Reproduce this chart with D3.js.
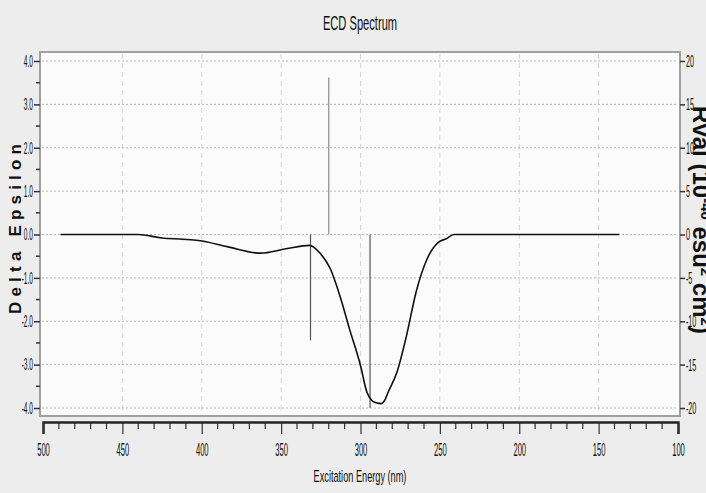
<!DOCTYPE html>
<html>
<head>
<meta charset="utf-8">
<script src="https://cdn.jsdelivr.net/npm/d3@7"></script>
<style>
body { margin: 0; background: #ededed; }
svg { display: block; }
text { font-family: 'Liberation Sans', Arial, sans-serif; fill: #111; }
</style>
</head>
<body>
<svg width="706" height="493"></svg>
<script>
var svg = d3.select('svg');

//Calculated ECD curve (nm, delta epsilon)
var wavelengths = [489, 440, 425, 412, 402, 384, 363, 347, 332, 326, 319, 313, 307, 300, 296, 293, 290, 287, 285, 282.5, 277, 271, 265, 258, 251, 246, 241, 137]
var deltaEps = [0, 0, -0.08, -0.11, -0.14, -0.28, -0.43, -0.33, -0.25, -0.41, -0.79, -1.41, -2.17, -3.02, -3.63, -3.82, -3.88, -3.9, -3.84, -3.63, -3.17, -2.33, -1.33, -0.56, -0.18, -0.1, 0, 0]

//Excited states (sticks, right axis)
var stateWavelengths = [331.5, 320, 294]
var rotatory = [-12.2, 18.1, -20.0]

var xTicks = [500, 450, 400, 350, 300, 250, 200, 150, 100]
var leftTicks = [4, 3, 2, 1, 0, -1, -2, -3, -4]
var rightTicks = [20, 15, 10, 5, 0, -5, -10, -15, -20]

var x = d3.scaleLinear().domain([500, 100]).range([43, 678])
var yL = d3.scaleLinear().domain([-4, 4]).range([408, 61])
var yR = d3.scaleLinear().domain([-20, 20]).range([408, 61])

var plot = {left: 40, right: 680, top: 52, bottom: 416}

//Squeeze text horizontally (the original uses a very narrow face)
function squeeze(sel, k) {
	sel.each(function() {
		var t = d3.select(this)
		var xx = +t.attr('x') || 0
		t.attr('x', xx / k).attr('transform', 'scale(' + k + ',1)')
	})
}
function hyphen(f) {
	return function(d) { return f(d).replace('\u2212', '-') }
}

//Title
svg.append('text')
	.attr('x', 360).attr('y', 30)
	.attr('text-anchor', 'middle')
	.attr('font-size', 21)
	.text('ECD Spectrum')
	.call(squeeze, 0.53)

//Plot area
svg.append('rect')
	.attr('x', plot.left).attr('y', plot.top)
	.attr('width', plot.right - plot.left).attr('height', plot.bottom - plot.top)
	.attr('fill', '#fbfbfb')
	.attr('stroke', '#a0a0a0')
	.attr('stroke-width', 2)

//Vertical grid
svg.append('g').selectAll('line')
	.data(xTicks.slice(1, -1))
	.enter().append('line')
	.attr('x1', function(d) { return x(d) }).attr('x2', function(d) { return x(d) })
	.attr('y1', plot.top + 2).attr('y2', plot.bottom - 2)
	.attr('stroke', '#d4d4d4')
	.attr('stroke-dasharray', '5,4')

//Horizontal grid
svg.append('g').selectAll('line')
	.data(leftTicks)
	.enter().append('line')
	.attr('x1', plot.left + 2).attr('x2', plot.right - 2)
	.attr('y1', function(d) { return yL(d) }).attr('y2', function(d) { return yL(d) })
	.attr('stroke', '#b8b8b8')
	.attr('stroke-dasharray', '2,2')

//Left axis
var leftAxis = svg.append('g')
	.attr('transform', 'translate(' + plot.left + ',0)')
	.call(d3.axisLeft(yL).tickValues(leftTicks).tickFormat(hyphen(d3.format('.1f'))).tickSize(6).tickPadding(1))
leftAxis.select('.domain').remove()
leftAxis.selectAll('text').attr('font-size', 16.5).attr('font-family', null).call(squeeze, 0.4)
leftAxis.selectAll('line').attr('stroke', '#333').attr('stroke-width', 1.5)
svg.append('g').selectAll('line')
	.data(d3.range(-3.5, 4, 1))
	.enter().append('line')
	.attr('x1', plot.left - 4).attr('x2', plot.left)
	.attr('y1', function(d) { return yL(d) }).attr('y2', function(d) { return yL(d) })
	.attr('stroke', '#333').attr('stroke-width', 1.5)

//Right axis
var rightAxis = svg.append('g')
	.attr('transform', 'translate(' + plot.right + ',0)')
	.call(d3.axisRight(yR).tickValues(rightTicks).tickFormat(hyphen(d3.format('d'))).tickSize(5).tickPadding(1))
rightAxis.select('.domain').remove()
rightAxis.selectAll('text').attr('font-size', 17).attr('font-family', null).call(squeeze, 0.42)
rightAxis.selectAll('line').attr('stroke', '#333').attr('stroke-width', 1.5)

//Bottom axis (detached below the plot)
var bottomAxis = svg.append('g')
	.attr('transform', 'translate(0,422)')
	.call(d3.axisBottom(x).tickValues(xTicks).tickSize(12))
bottomAxis.select('.domain').attr('stroke', '#222').attr('stroke-width', 2.5)
bottomAxis.selectAll('text').attr('font-size', 19).attr('font-family', null)
	.attr('dy', null).attr('y', 34).call(squeeze, 0.4)
bottomAxis.selectAll('line').attr('stroke', '#333').attr('stroke-width', 1.2)
svg.append('g').selectAll('line')
	.data(d3.range(490, 100, -10).filter(function(d) { return d % 50 != 0 }))
	.enter().append('line')
	.attr('x1', function(d) { return x(d) }).attr('x2', function(d) { return x(d) })
	.attr('y1', 422).attr('y2', 429)
	.attr('stroke', '#333').attr('stroke-width', 1.2)

//Axis titles
svg.append('text')
	.attr('x', 360).attr('y', 482)
	.attr('text-anchor', 'middle')
	.attr('font-size', 17)
	.text('Excitation Energy (nm)')
	.call(squeeze, 0.54)

svg.append('text')
	.attr('transform', 'translate(21,229) rotate(-90)')
	.attr('text-anchor', 'middle')
	.attr('font-size', 17)
	.attr('font-weight', 'bold')
	.attr('textLength', 170)
	.attr('lengthAdjust', 'spacing')
	.text('Delta Epsilon')

//Right title, partly running off the edge as in the original
var rTitle = svg.append('text')
	.attr('transform', 'translate(693,220) rotate(90)')
	.attr('text-anchor', 'middle')
	.attr('font-size', 24)
	.attr('font-weight', 'bold')
var rParts = [['Rval (10', 0], ['-40', 1], [' esu', 0], ['2', 1], [' cm', 0], ['2', 1], [')', 0]]
rParts.forEach(function(p) {
	var ts = rTitle.append('tspan').text(p[0])
	if (p[1]) ts.attr('baseline-shift', 'super').attr('font-size', 15)
})

//Sticks
svg.append('g').selectAll('line')
	.data(stateWavelengths)
	.enter().append('line')
	.attr('x1', function(d) { return x(d) }).attr('x2', function(d) { return x(d) })
	.attr('y1', yR(0))
	.attr('y2', function(d, i) { return yR(rotatory[i]) })
	.attr('stroke', function(d, i) { return rotatory[i] > 0 ? '#8a8a8a' : '#555' })
	.attr('stroke-width', 1.2)

//Spectrum curve
var line = d3.line()
	.x(function(d) { return x(d) })
	.y(function(d, i) { return yL(deltaEps[i]) })
	.curve(d3.curveMonotoneX)

svg.append('path')
	.attr('d', line(wavelengths))
	.attr('fill', 'none')
	.attr('stroke', '#111')
	.attr('stroke-width', 1.6)
</script>
</body>
</html>
